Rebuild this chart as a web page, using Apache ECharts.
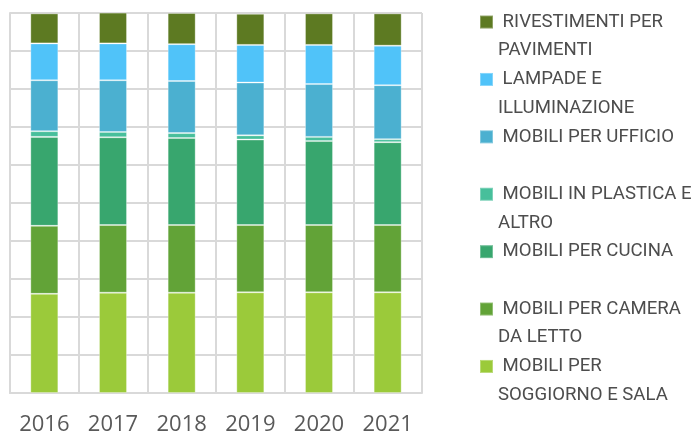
<!DOCTYPE html>
<html>
<head>
<meta charset="utf-8">
<script src="https://cdn.jsdelivr.net/npm/echarts@6/dist/echarts.min.js"></script>
<style>
  html, body { margin: 0; padding: 0; background: #fff; }
  #chart { width: 691px; height: 432px; }
</style>
</head>
<body>
<div id="chart"></div>
<script>
// anni
const years = ['2016', '2017', '2018', '2019', '2020', '2021'];

// quote % per categoria (dal basso verso l'alto)
const soggiorno = [26.1, 26.4, 26.4, 26.5, 26.5, 26.5];
const camera = [17.9, 17.8, 17.8, 17.7, 17.7, 17.7];
const cucina = [23.4, 23.1, 22.9, 22.5, 22.1, 21.8];
const plastica = [1.5, 1.4, 1.3, 1.1, 1.1, 0.8];
const ufficio = [13.4, 13.6, 13.7, 13.9, 13.9, 14.2];
const lampade = [9.7, 9.7, 9.7, 9.9, 10.3, 10.4];
const rivestimenti = [7.9, 8.1, 8.2, 8.2, 8.3, 8.5];

const seriesDefs = [
  { name: 'MOBILI PER SOGGIORNO E SALA', label: ' MOBILI PER\nSOGGIORNO E SALA', data: soggiorno, color: '#9bca3a' },
  { name: 'MOBILI PER CAMERA DA LETTO', label: ' MOBILI PER CAMERA\nDA LETTO', data: camera, color: '#62a337' },
  { name: 'MOBILI PER CUCINA', label: ' MOBILI PER CUCINA\n ', data: cucina, color: '#38a66e' },
  { name: 'MOBILI IN PLASTICA E ALTRO', label: ' MOBILI IN PLASTICA E\nALTRO', data: plastica, color: '#47bf9b' },
  { name: 'MOBILI PER UFFICIO', label: ' MOBILI PER UFFICIO\n ', data: ufficio, color: '#4bb0d0' },
  { name: 'LAMPADE E ILLUMINAZIONE', label: ' LAMPADE E\nILLUMINAZIONE', data: lampade, color: '#50c3f9' },
  { name: 'RIVESTIMENTI PER PAVIMENTI', label: ' RIVESTIMENTI PER\nPAVIMENTI', data: rivestimenti, color: '#5d7a22' },
];

// riga vuota davanti: la prima riga del testo resta allineata al quadratino
const labelMap = {};
seriesDefs.forEach(s => { labelMap[s.name] = ' \n' + s.label; });

const chart = echarts.init(document.getElementById('chart'));

const LH = 28.7;

chart.setOption({
  animation: false,
  grid: { left: 10, right: 269, top: 13, bottom: 39, containLabel: false, outerBoundsMode: 'none' },
  legend: {
    orient: 'vertical',
    left: 479,
    top: -21,
    padding: 0,
    itemWidth: 13,
    itemHeight: 13,
    itemGap: -LH,
    icon: 'rect',
    data: seriesDefs.map(s => s.name).reverse(),
    formatter: name => labelMap[name],
    textStyle: {
      fontFamily: 'Roboto',
      fontSize: 18.6,
      color: '#4d4d4d',
      lineHeight: LH,
    },
  },
  xAxis: {
    type: 'category',
    data: years,
    axisLine: { lineStyle: { color: '#d9d9d9', width: 2 } },
    axisTick: { show: false },
    splitLine: { show: true, lineStyle: { color: '#d9d9d9', width: 2 } },
    axisLabel: {
      fontFamily: '"Open Sans"',
      fontSize: 22,
      color: '#595959',
      margin: 21,
    },
  },
  yAxis: {
    type: 'value',
    min: 0,
    max: 100,
    interval: 10,
    axisLabel: { show: false },
    axisTick: { show: false },
    axisLine: { show: true, lineStyle: { color: '#d9d9d9', width: 2 } },
    splitLine: { lineStyle: { color: '#d9d9d9', width: 2 } },
  },
  series: seriesDefs.map(s => ({
    name: s.name,
    type: 'bar',
    stack: 'tot',
    barWidth: 28,
    data: s.data,
    itemStyle: {
      color: s.color,
      borderColor: 'rgba(255,255,255,0.3)',
      borderWidth: 1,
    },
  })),
});
</script>
</body>
</html>
